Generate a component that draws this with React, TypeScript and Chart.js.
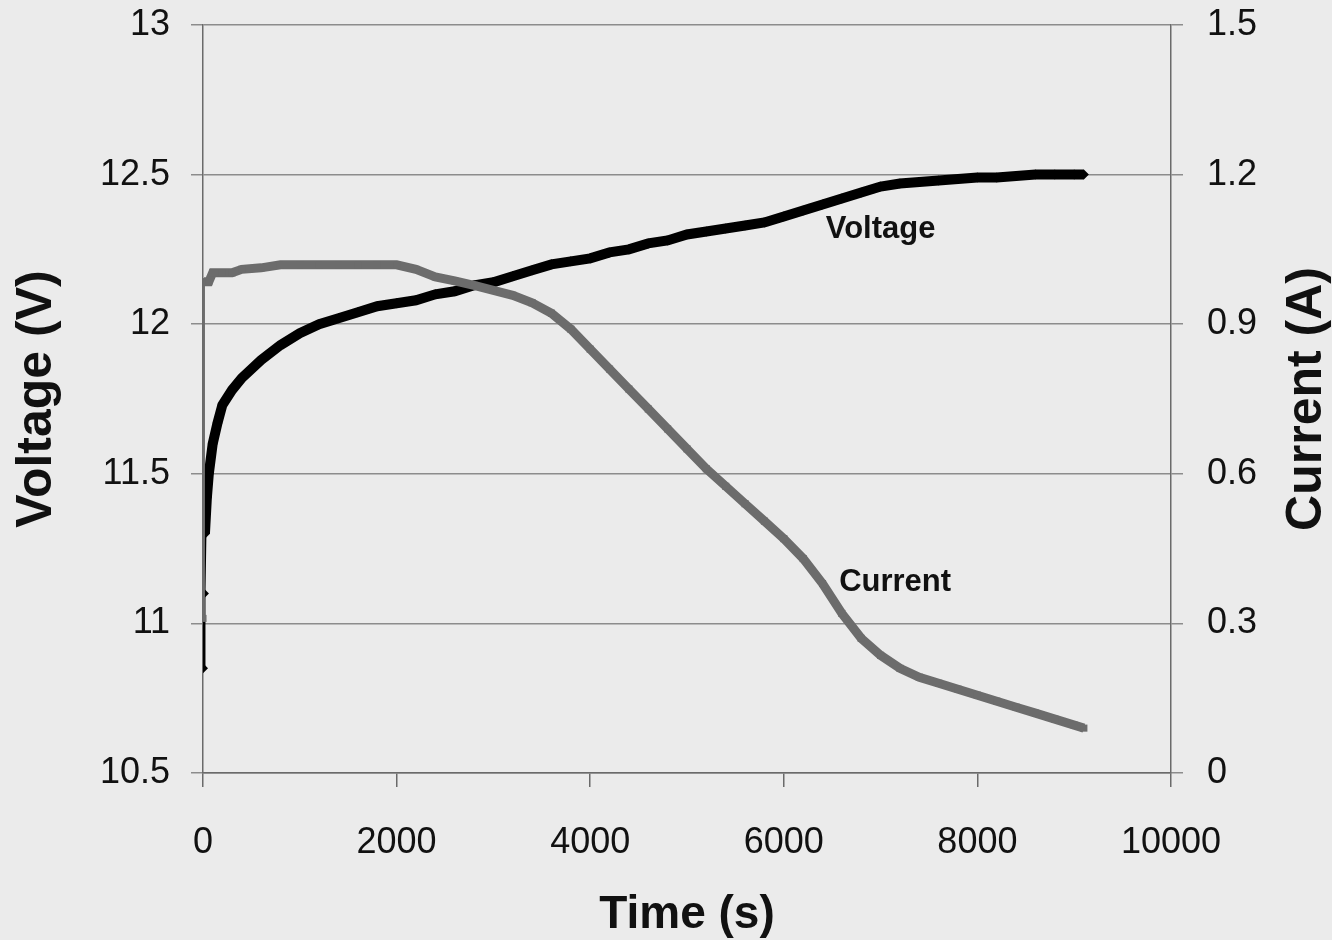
import React, { useEffect, useRef } from "react";
import { Chart, registerables } from "chart.js";

Chart.register(...registerables);

// Time (s) sample points
const timeS = [
  0, 10, 20, 40, 60, 100, 150, 200, 300, 400, 600, 800, 1000, 1200, 1400, 1600, 1800,
  2000, 2200, 2400, 2600, 2800, 3000, 3200, 3400, 3600, 3800, 4000, 4200, 4400, 4600,
  4800, 5000, 5200, 5400, 5600, 5800, 6000, 6200, 6400, 6600, 6800, 7000, 7200, 7400,
  7600, 7800, 8000, 8200, 8400, 8600, 8800, 9000, 9100,
];

// Voltage (V)
const voltageV = [
  10.85, 11.1, 11.3, 11.42, 11.5, 11.6, 11.67, 11.73, 11.78, 11.82, 11.88, 11.93, 11.97,
  12.0, 12.02, 12.04, 12.06, 12.07, 12.08, 12.1, 12.11, 12.13, 12.14, 12.16, 12.18, 12.2,
  12.21, 12.22, 12.24, 12.25, 12.27, 12.28, 12.3, 12.31, 12.32, 12.33, 12.34, 12.36,
  12.38, 12.4, 12.42, 12.44, 12.46, 12.47, 12.475, 12.48, 12.485, 12.49, 12.49, 12.495,
  12.5, 12.5, 12.5, 12.5,
];

// Current (A)
const currentA = [
  0.31, 0.985, 0.985, 0.985, 0.985, 1.003, 1.003, 1.003, 1.003, 1.01, 1.013, 1.019, 1.019,
  1.019, 1.019, 1.019, 1.019, 1.019, 1.01, 0.995, 0.987, 0.978, 0.968, 0.958, 0.943, 0.922,
  0.89, 0.85, 0.81, 0.77, 0.73, 0.69, 0.65, 0.61, 0.575, 0.54, 0.505, 0.47, 0.43, 0.38,
  0.32, 0.27, 0.236, 0.21, 0.192, 0.18, 0.168, 0.156, 0.144, 0.132, 0.12, 0.108, 0.096,
  0.09,
];

const timeTicks = [0, 2000, 4000, 6000, 8000, 10000];
const voltageTicks = [10.5, 11, 11.5, 12, 12.5, 13];
const currentTicks = [0, 0.3, 0.6, 0.9, 1.2, 1.5];

const FONT = "'Liberation Sans', Arial, sans-serif";
const BG = "#ebebeb";
const GRID = "#8c8c8c";
const AXIS = "#6a6a6a";

export default function App() {
  const canvasRef = useRef<HTMLCanvasElement | null>(null);

  useEffect(() => {
    document.body.style.margin = "0";
    document.body.style.background = BG;
    const canvas = canvasRef.current;
    if (!canvas) return;

    const bgPlugin = {
      id: "bg",
      beforeDraw(chart: any) {
        const { ctx } = chart;
        ctx.save();
        ctx.fillStyle = BG;
        ctx.fillRect(0, 0, chart.width, chart.height);
        ctx.restore();
      },
    };

    const textPlugin = {
      id: "texts",
      afterDraw(chart: any) {
        const { ctx, scales } = chart;
        ctx.save();
        ctx.fillStyle = "#111";
        ctx.textAlign = "center";
        ctx.textBaseline = "middle";
        ctx.font = `bold 31px ${FONT}`;
        ctx.fillText("Voltage", scales.x.getPixelForValue(7000), scales.y.getPixelForValue(12.315));
        ctx.fillText("Current", scales.x.getPixelForValue(7150), scales.y1.getPixelForValue(0.383));
        // right axis title, reading bottom to top
        ctx.font = `bold 50px ${FONT}`;
        ctx.translate(1307, (chart.chartArea.top + chart.chartArea.bottom) / 2);
        ctx.rotate(-Math.PI / 2);
        ctx.fillText("Current (A)", 0, 0);
        ctx.restore();
      },
    };

    const noPad = (s: any) => {
      s.paddingTop = 0;
      s.paddingBottom = 0;
    };

    const voltagePts = timeS.map((t, i) => ({ x: t, y: voltageV[i] }));
    const currentPts = timeS.map((t, i) => ({ x: t, y: currentA[i] }));

    const chart = new Chart(canvas, {
      type: "line",
      data: {
        datasets: [
          {
            label: "Current",
            data: currentPts,
            yAxisID: "y1",
            order: 0,
            borderColor: "#6c6c6c",
            backgroundColor: "#6c6c6c",
            borderWidth: 9,
            pointStyle: "rect",
            pointRadius: 5,
            pointBorderWidth: 0,
            tension: 0,
            segment: {
              borderWidth: (c: any) => (c.p0DataIndex === 0 ? 2 : 9),
            },
          } as any,
          {
            label: "Voltage",
            data: voltagePts,
            yAxisID: "y",
            order: 1,
            borderColor: "#000",
            backgroundColor: "#000",
            borderWidth: 10,
            pointStyle: "rectRot",
            pointRadius: 5,
            pointBorderWidth: 0,
            tension: 0,
            segment: {
              borderWidth: (c: any) => (c.p0DataIndex <= 1 ? 3 : 10),
            },
          } as any,
        ],
      },
      options: {
        animation: false,
        responsive: true,
        maintainAspectRatio: false,
        layout: { padding: { top: 25, left: 0, right: 0, bottom: 0 } },
        plugins: { legend: { display: false }, tooltip: { enabled: false } },
        scales: {
          x: {
            type: "linear",
            position: "bottom",
            min: 0,
            max: 10000,
            afterBuildTicks: (s: any) => {
              s.ticks = timeTicks.map((v) => ({ value: v }));
            },
            afterFit: (s: any) => {
              s.height = 167;
            },
            ticks: {
              font: { family: FONT, size: 36 },
              color: "#111",
              padding: 34,
              maxRotation: 0,
              callback: (v: any) => String(v),
            },
            grid: { drawOnChartArea: false, tickLength: 14, color: AXIS, lineWidth: 1.5 },
            border: { color: AXIS, width: 1.5 },
            title: {
              display: true,
              text: "Time (s)",
              font: { family: FONT, size: 46, weight: "bold" },
              color: "#111",
              padding: { top: 0, bottom: -3 },
            },
          },
          y: {
            type: "linear",
            position: "left",
            min: 10.5,
            max: 13,
            afterBuildTicks: (s: any) => {
              s.ticks = voltageTicks.map((v) => ({ value: v }));
            },
            afterFit: (s: any) => {
              s.width = 203;
              noPad(s);
            },
            ticks: {
              font: { family: FONT, size: 36 },
              color: "#111",
              padding: 21,
              callback: (v: any) => String(v),
            },
            grid: { color: GRID, lineWidth: 1.5, tickLength: 12 },
            border: { color: AXIS, width: 1.5 },
            title: {
              display: true,
              text: "Voltage (V)",
              font: { family: FONT, size: 50, weight: "bold" },
              color: "#111",
              padding: { top: 7, bottom: 0 },
            },
          },
          y1: {
            type: "linear",
            position: "right",
            min: 0,
            max: 1.5,
            afterBuildTicks: (s: any) => {
              s.ticks = currentTicks.map((v) => ({ value: v }));
            },
            afterFit: (s: any) => {
              s.width = 161;
              noPad(s);
            },
            ticks: {
              font: { family: FONT, size: 36 },
              color: "#111",
              padding: 24,
              callback: (v: any) => String(v),
            },
            grid: { drawOnChartArea: false, color: GRID, lineWidth: 1.5, tickLength: 12 },
            border: { color: AXIS, width: 1.5 },
          },
        },
      } as any,
      plugins: [bgPlugin, textPlugin],
    });

    return () => chart.destroy();
  }, []);

  return (
    <div style={{ width: 1332, height: 940, position: "relative", background: BG }}>
      <canvas ref={canvasRef} />
    </div>
  );
}
